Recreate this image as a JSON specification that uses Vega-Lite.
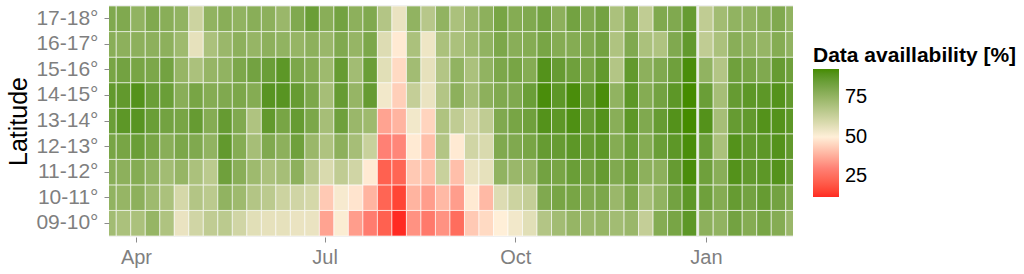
{
  "$schema": "https://vega.github.io/schema/vega-lite/v6.json",
  "width": 684,
  "height": 232,
  "autosize": {"type": "none"},
  "padding": {"left": 109, "top": 5, "right": 231, "bottom": 37},
  "background": "white",
  "config": {"view": {"fill": "#EBEBEB", "stroke": null}, "font": "Liberation Sans"},
  "data": {"values": [
    {"s":"2013-03-15T12:00Z","e":"2013-03-22T12:00Z","09-10°":72,"10-11°":76,"11-12°":78,"12-13°":82,"13-14°":85,"14-15°":87,"15-16°":82,"16-17°":78,"17-18°":80},
    {"s":"2013-03-22T12:00Z","e":"2013-03-29T12:00Z","09-10°":70,"10-11°":75,"11-12°":77,"12-13°":82,"13-14°":88,"14-15°":87,"15-16°":83,"16-17°":77,"17-18°":80},
    {"s":"2013-03-29T12:00Z","e":"2013-04-05T12:00Z","09-10°":70,"10-11°":77,"11-12°":79,"12-13°":85,"13-14°":89,"14-15°":90,"15-16°":82,"16-17°":77,"17-18°":76},
    {"s":"2013-04-05T12:00Z","e":"2013-04-12T12:00Z","09-10°":75,"10-11°":73,"11-12°":76,"12-13°":82,"13-14°":85,"14-15°":85,"15-16°":81,"16-17°":77,"17-18°":80},
    {"s":"2013-04-12T12:00Z","e":"2013-04-19T12:00Z","09-10°":69,"10-11°":70,"11-12°":72,"12-13°":78,"13-14°":83,"14-15°":85,"15-16°":83,"16-17°":77,"17-18°":78},
    {"s":"2013-04-19T12:00Z","e":"2013-04-26T12:00Z","09-10°":55,"10-11°":60,"11-12°":75,"12-13°":81,"13-14°":82,"14-15°":78,"15-16°":75,"16-17°":73,"17-18°":76},
    {"s":"2013-04-26T12:00Z","e":"2013-05-03T12:00Z","09-10°":61,"10-11°":68,"11-12°":70,"12-13°":80,"13-14°":86,"14-15°":82,"15-16°":70,"16-17°":56,"17-18°":62},
    {"s":"2013-05-03T12:00Z","e":"2013-05-10T12:00Z","09-10°":65,"10-11°":66,"11-12°":66,"12-13°":76,"13-14°":79,"14-15°":79,"15-16°":75,"16-17°":70,"17-18°":76},
    {"s":"2013-05-10T12:00Z","e":"2013-05-17T12:00Z","09-10°":66,"10-11°":76,"11-12°":84,"12-13°":87,"13-14°":86,"14-15°":80,"15-16°":76,"16-17°":74,"17-18°":78},
    {"s":"2013-05-17T12:00Z","e":"2013-05-24T12:00Z","09-10°":61,"10-11°":73,"11-12°":78,"12-13°":79,"13-14°":80,"14-15°":81,"15-16°":81,"16-17°":77,"17-18°":76},
    {"s":"2013-05-24T12:00Z","e":"2013-05-31T12:00Z","09-10°":57,"10-11°":68,"11-12°":73,"12-13°":71,"13-14°":69,"14-15°":79,"15-16°":83,"16-17°":75,"17-18°":78},
    {"s":"2013-05-31T12:00Z","e":"2013-06-07T12:00Z","09-10°":56,"10-11°":66,"11-12°":70,"12-13°":80,"13-14°":87,"14-15°":89,"15-16°":85,"16-17°":77,"17-18°":77},
    {"s":"2013-06-07T12:00Z","e":"2013-06-14T12:00Z","09-10°":56,"10-11°":62,"11-12°":71,"12-13°":77,"13-14°":82,"14-15°":89,"15-16°":88,"16-17°":76,"17-18°":74},
    {"s":"2013-06-14T12:00Z","e":"2013-06-21T12:00Z","09-10°":55,"10-11°":61,"11-12°":77,"12-13°":84,"13-14°":86,"14-15°":86,"15-16°":81,"16-17°":75,"17-18°":80},
    {"s":"2013-06-21T12:00Z","e":"2013-06-28T12:00Z","09-10°":55,"10-11°":60,"11-12°":67,"12-13°":74,"13-14°":81,"14-15°":81,"15-16°":79,"16-17°":77,"17-18°":85},
    {"s":"2013-06-28T12:00Z","e":"2013-07-05T12:00Z","09-10°":36,"10-11°":43,"11-12°":59,"12-13°":69,"13-14°":71,"14-15°":71,"15-16°":73,"16-17°":74,"17-18°":78},
    {"s":"2013-07-05T12:00Z","e":"2013-07-12T12:00Z","09-10°":51,"10-11°":52,"11-12°":65,"12-13°":77,"13-14°":84,"14-15°":86,"15-16°":86,"16-17°":80,"17-18°":83},
    {"s":"2013-07-12T12:00Z","e":"2013-07-19T12:00Z","09-10°":35,"10-11°":48,"11-12°":61,"12-13°":71,"13-14°":74,"14-15°":75,"15-16°":72,"16-17°":75,"17-18°":77},
    {"s":"2013-07-19T12:00Z","e":"2013-07-26T12:00Z","09-10°":29,"10-11°":39,"11-12°":49,"12-13°":63,"13-14°":73,"14-15°":86,"15-16°":85,"16-17°":81,"17-18°":80},
    {"s":"2013-07-26T12:00Z","e":"2013-08-02T12:00Z","09-10°":22,"10-11°":23,"11-12°":22,"12-13°":30,"13-14°":36,"14-15°":53,"15-16°":57,"16-17°":58,"17-18°":68},
    {"s":"2013-08-02T12:00Z","e":"2013-08-09T12:00Z","09-10°":12,"10-11°":16,"11-12°":23,"12-13°":31,"13-14°":39,"14-15°":44,"15-16°":46,"16-17°":49,"17-18°":55},
    {"s":"2013-08-09T12:00Z","e":"2013-08-16T12:00Z","09-10°":33,"10-11°":39,"11-12°":43,"12-13°":49,"13-14°":53,"14-15°":64,"15-16°":72,"16-17°":70,"17-18°":76},
    {"s":"2013-08-16T12:00Z","e":"2013-08-23T12:00Z","09-10°":28,"10-11°":35,"11-12°":41,"12-13°":41,"13-14°":45,"14-15°":55,"15-16°":56,"16-17°":54,"17-18°":67},
    {"s":"2013-08-23T12:00Z","e":"2013-08-30T12:00Z","09-10°":33,"10-11°":40,"11-12°":63,"12-13°":68,"13-14°":69,"14-15°":68,"15-16°":68,"16-17°":70,"17-18°":76},
    {"s":"2013-08-30T12:00Z","e":"2013-09-06T12:00Z","09-10°":25,"10-11°":35,"11-12°":41,"12-13°":49,"13-14°":65,"14-15°":77,"15-16°":76,"16-17°":70,"17-18°":70},
    {"s":"2013-09-06T12:00Z","e":"2013-09-13T12:00Z","09-10°":43,"10-11°":49,"11-12°":55,"12-13°":61,"13-14°":61,"14-15°":71,"15-16°":70,"16-17°":73,"17-18°":74},
    {"s":"2013-09-13T12:00Z","e":"2013-09-20T12:00Z","09-10°":46,"10-11°":40,"11-12°":56,"12-13°":59,"13-14°":65,"14-15°":77,"15-16°":76,"16-17°":76,"17-18°":77},
    {"s":"2013-09-20T12:00Z","e":"2013-09-27T12:00Z","09-10°":50,"10-11°":58,"11-12°":76,"12-13°":80,"13-14°":80,"14-15°":80,"15-16°":81,"16-17°":81,"17-18°":82},
    {"s":"2013-09-27T12:00Z","e":"2013-10-04T12:00Z","09-10°":53,"10-11°":62,"11-12°":74,"12-13°":80,"13-14°":82,"14-15°":80,"15-16°":82,"16-17°":78,"17-18°":79},
    {"s":"2013-10-04T12:00Z","e":"2013-10-11T12:00Z","09-10°":57,"10-11°":64,"11-12°":75,"12-13°":82,"13-14°":84,"14-15°":85,"15-16°":79,"16-17°":79,"17-18°":80},
    {"s":"2013-10-11T12:00Z","e":"2013-10-18T12:00Z","09-10°":68,"10-11°":80,"11-12°":83,"12-13°":86,"13-14°":90,"14-15°":92,"15-16°":90,"16-17°":82,"17-18°":83},
    {"s":"2013-10-18T12:00Z","e":"2013-10-25T12:00Z","09-10°":72,"10-11°":82,"11-12°":82,"12-13°":86,"13-14°":88,"14-15°":88,"15-16°":86,"16-17°":79,"17-18°":77},
    {"s":"2013-10-25T12:00Z","e":"2013-11-01T12:00Z","09-10°":75,"10-11°":82,"11-12°":85,"12-13°":88,"13-14°":91,"14-15°":92,"15-16°":84,"16-17°":79,"17-18°":83},
    {"s":"2013-11-01T12:00Z","e":"2013-11-08T12:00Z","09-10°":74,"10-11°":80,"11-12°":83,"12-13°":86,"13-14°":86,"14-15°":86,"15-16°":82,"16-17°":80,"17-18°":80},
    {"s":"2013-11-08T12:00Z","e":"2013-11-15T12:00Z","09-10°":75,"10-11°":81,"11-12°":86,"12-13°":88,"13-14°":90,"14-15°":92,"15-16°":87,"16-17°":83,"17-18°":83},
    {"s":"2013-11-15T12:00Z","e":"2013-11-22T12:00Z","09-10°":72,"10-11°":74,"11-12°":80,"12-13°":79,"13-14°":78,"14-15°":76,"15-16°":68,"16-17°":69,"17-18°":70},
    {"s":"2013-11-22T12:00Z","e":"2013-11-29T12:00Z","09-10°":74,"10-11°":81,"11-12°":84,"12-13°":85,"13-14°":88,"14-15°":88,"15-16°":87,"16-17°":80,"17-18°":79},
    {"s":"2013-11-29T12:00Z","e":"2013-12-06T12:00Z","09-10°":64,"10-11°":71,"11-12°":77,"12-13°":79,"13-14°":80,"14-15°":79,"15-16°":77,"16-17°":70,"17-18°":65},
    {"s":"2013-12-06T12:00Z","e":"2013-12-13T12:00Z","09-10°":79,"10-11°":76,"11-12°":77,"12-13°":85,"13-14°":86,"14-15°":83,"15-16°":80,"16-17°":69,"17-18°":80},
    {"s":"2013-12-13T12:00Z","e":"2013-12-20T12:00Z","09-10°":82,"10-11°":83,"11-12°":86,"12-13°":88,"13-14°":90,"14-15°":88,"15-16°":84,"16-17°":80,"17-18°":80},
    {"s":"2013-12-20T12:00Z","e":"2013-12-27T12:00Z","09-10°":88,"10-11°":88,"11-12°":92,"12-13°":92,"13-14°":93,"14-15°":93,"15-16°":92,"16-17°":87,"17-18°":86},
    {"s":"2013-12-28T12:00Z","e":"2014-01-04T12:00Z","09-10°":77,"10-11°":84,"11-12°":84,"12-13°":85,"13-14°":90,"14-15°":85,"15-16°":76,"16-17°":65,"17-18°":65},
    {"s":"2014-01-04T12:00Z","e":"2014-01-11T12:00Z","09-10°":76,"10-11°":79,"11-12°":78,"12-13°":70,"13-14°":71,"14-15°":71,"15-16°":68,"16-17°":70,"17-18°":72},
    {"s":"2014-01-11T12:00Z","e":"2014-01-18T12:00Z","09-10°":83,"10-11°":86,"11-12°":90,"12-13°":90,"13-14°":86,"14-15°":86,"15-16°":84,"16-17°":78,"17-18°":76},
    {"s":"2014-01-18T12:00Z","e":"2014-01-25T12:00Z","09-10°":79,"10-11°":83,"11-12°":87,"12-13°":87,"13-14°":87,"14-15°":88,"15-16°":82,"16-17°":76,"17-18°":76},
    {"s":"2014-01-25T12:00Z","e":"2014-02-01T12:00Z","09-10°":82,"10-11°":86,"11-12°":88,"12-13°":88,"13-14°":90,"14-15°":88,"15-16°":80,"16-17°":75,"17-18°":78},
    {"s":"2014-02-01T12:00Z","e":"2014-02-08T12:00Z","09-10°":79,"10-11°":83,"11-12°":90,"12-13°":90,"13-14°":90,"14-15°":90,"15-16°":86,"16-17°":79,"17-18°":80},
    {"s":"2014-02-08T12:00Z","e":"2014-02-15T12:00Z","09-10°":74,"10-11°":80,"11-12°":86,"12-13°":87,"13-14°":88,"14-15°":87,"15-16°":84,"16-17°":76,"17-18°":76}
  ]},
  "transform": [
    {"fold": ["09-10°","10-11°","11-12°","12-13°","13-14°","14-15°","15-16°","16-17°","17-18°"], "as": ["lat", "value"]}
  ],
  "mark": {"type": "rect", "stroke": "white", "strokeWidth": 0.6, "clip": true},
  "encoding": {
    "x": {
      "field": "s", "type": "temporal",
      "scale": {"type": "utc", "nice": false, "domain": [{"year": 2013, "month": 3, "date": 19, "utc": true}, {"year": 2014, "month": 2, "date": 12, "utc": true}]},
      "axis": {
        "title": null, "grid": false, "domain": false,
        "values": [{"year": 2013, "month": 4, "date": 1, "utc": true}, {"year": 2013, "month": 7, "date": 1, "utc": true}, {"year": 2013, "month": 10, "date": 1, "utc": true}, {"year": 2014, "month": 1, "date": 1, "utc": true}],
        "format": "%b", "labelFontSize": 20, "labelColor": "#7F7F7F", "tickColor": "#8C8C8C", "tickSize": 5, "labelPadding": 5
      }
    },
    "x2": {"field": "e"},
    "y": {
      "field": "lat", "type": "ordinal",
      "scale": {"domain": ["17-18°","16-17°","15-16°","14-15°","13-14°","12-13°","11-12°","10-11°","09-10°"], "paddingInner": 0, "paddingOuter": 0.04},
      "axis": {
        "title": "Latitude", "titleFontSize": 25, "titleFontWeight": "normal", "titleColor": "black", "titlePadding": 4,
        "grid": false, "domain": false, "labelFontSize": 21, "labelColor": "#7F7F7F", "tickColor": "#8C8C8C", "tickSize": 5, "labelPadding": 6
      }
    },
    "color": {
      "field": "value", "type": "quantitative",
      "scale": {"domain": [12, 30, 50, 93], "range": ["#FF2A22", "#FF8074", "#FFEFD8", "#458B00"], "interpolate": "lab"},
      "legend": {
        "title": "Data availlability [%]", "orient": "none", "legendX": 704, "legendY": 40, "direction": "vertical",
        "gradientLength": 128, "gradientThickness": 26, "gradientStrokeWidth": 0, "titleLimit": 400,
        "titleFontSize": 21, "titleFontWeight": "bold", "titleColor": "black", "titlePadding": 3,
        "labelFontSize": 20, "labelColor": "black", "labelOffset": 6, "values": [25, 50, 75], "padding": 0
      }
    }
  }
}
